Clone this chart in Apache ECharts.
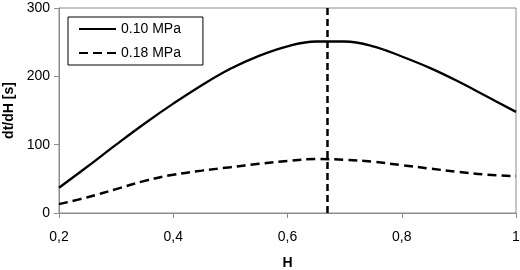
<!DOCTYPE html>
<html>
<head>
<meta charset="utf-8">
<script src="https://cdn.jsdelivr.net/npm/echarts@6/dist/echarts.min.js"></script>
<style>
  html, body { margin: 0; padding: 0; background: #fff; }
  #chart { width: 520px; height: 270px; }
</style>
</head>
<body>
<div id="chart"></div>
<script>
// H values (x axis)
var hValues = [0.2, 0.25, 0.3, 0.35, 0.4, 0.45, 0.5, 0.55, 0.6, 0.65, 0.7, 0.75, 0.8, 0.85, 0.9, 0.95, 1.0];
// dt/dH [s] for 0.10 MPa
var p010 = [37, 68, 100, 131, 160, 187, 211, 230, 244, 251, 251, 244, 229, 212, 192, 170, 148];
// dt/dH [s] for 0.18 MPa
var p018 = [13, 23, 35, 47, 56, 62, 67, 72, 76, 79, 78, 75, 70, 65, 60, 56, 54];
// vertical marker
var markerH = 0.67;
var markerY = [0, 300];

var seriesNames = ["0.10 MPa", "0.18 MPa"];

function pairs(xs, ys) {
  return xs.map(function (x, i) { return [x, ys[i]]; });
}

var chart = echarts.init(document.getElementById("chart"));
var font = "Liberation Sans, Arial, sans-serif";

chart.setOption({
  animation: false,
  grid: {
    left: 59, right: 4, top: 8, bottom: 57,
    outerBoundsMode: "none",
    show: true, borderColor: "#8c8c8c", borderWidth: 1
  },
  legend: {
    data: seriesNames,
    orient: "vertical",
    left: 68, top: 17,
    padding: [5, 22, 5, 10],
    itemWidth: 37, itemHeight: 14, itemGap: 10,
    borderColor: "#000", borderWidth: 1,
    backgroundColor: "#fff",
    itemStyle: { opacity: 0 },
    textStyle: { fontFamily: font, fontSize: 14, color: "#000" }
  },
  xAxis: {
    type: "value",
    min: 0.2, max: 1, interval: 0.2,
    name: "H",
    nameLocation: "middle",
    nameGap: 43,
    nameTextStyle: { fontFamily: font, fontSize: 14, fontWeight: "bold", color: "#000" },
    axisLine: { lineStyle: { color: "#8c8c8c" } },
    axisTick: { show: true, length: 5, lineStyle: { color: "#8c8c8c" } },
    splitLine: { show: false },
    axisLabel: {
      fontFamily: font, fontSize: 14, color: "#000", margin: 17,
      formatter: function (v) {
        return v === 1 ? "1" : v.toFixed(1).replace(".", ",");
      }
    }
  },
  yAxis: {
    type: "value",
    min: 0, max: 300, interval: 100,
    name: "dt/dH [s]",
    nameLocation: "middle",
    nameGap: 37,
    nameTextStyle: { fontFamily: font, fontSize: 14, fontWeight: "bold", color: "#000" },
    axisLine: { show: true, lineStyle: { color: "#8c8c8c" } },
    axisTick: { show: true, length: 5, lineStyle: { color: "#8c8c8c" } },
    splitLine: { show: false },
    axisLabel: { fontFamily: font, fontSize: 14, color: "#000", margin: 9 }
  },
  series: [
    {
      name: seriesNames[0],
      type: "line",
      data: pairs(hValues, p010),
      smooth: 0.4,
      symbol: "none",
      lineStyle: { color: "#000", width: 2.3 },
      itemStyle: { color: "#000" }
    },
    {
      name: seriesNames[1],
      type: "line",
      data: pairs(hValues, p018),
      smooth: 0.4,
      symbol: "none",
      lineStyle: { color: "#000", width: 2.5, type: [9, 5] },
      itemStyle: { color: "#000" }
    },
    {
      name: "marker",
      type: "line",
      data: [[markerH, markerY[0]], [markerH, markerY[1]]],
      symbol: "none",
      lineStyle: { color: "#000", width: 2.5, type: [7, 4] },
      z: 3
    }
  ]
});
</script>
</body>
</html>
